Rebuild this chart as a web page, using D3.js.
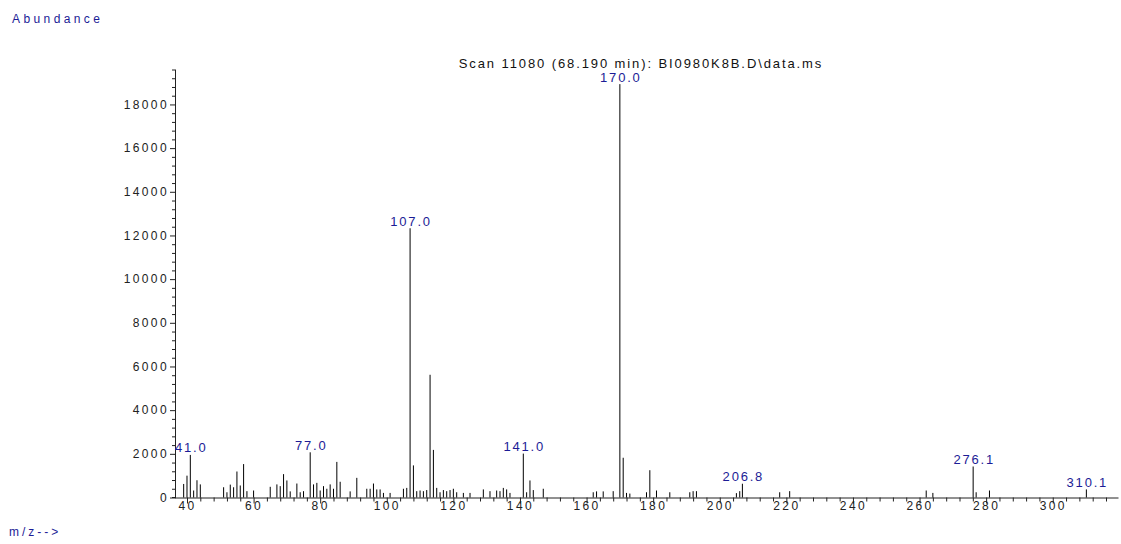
<!DOCTYPE html>
<html>
<head>
<meta charset="utf-8">
<script src="https://cdn.jsdelivr.net/npm/d3@7"></script>
<style>
body { margin: 0; background: #fff; }
svg { display: block; font-family: "Liberation Sans", Arial, sans-serif; }
</style>
</head>
<body>
<svg id="mySVG" width="1121" height="544"></svg>
<script>
// peaks (m/z, abundance)
var mzValues = [39, 40, 41, 42, 43, 44, 51, 52, 53, 54, 55, 56, 57, 58, 60,
	65, 67, 68, 69, 70, 71, 73, 74, 75, 77, 78, 79, 80, 81, 82, 83, 84, 85, 86,
	89, 91, 94, 95, 96, 97, 98, 99, 101, 105, 106, 107, 108, 109, 110, 111, 112,
	113, 114, 115, 116, 117, 118, 119, 120, 121, 123, 125, 129, 131, 133, 134,
	135, 136, 137, 141, 142, 143, 144, 147, 162, 163, 165, 168, 170, 171, 172,
	173, 178, 179, 181, 185, 191, 192, 193, 205, 206, 206.8, 218, 221, 262, 264,
	276.1, 277, 281, 310.1];
var abundances = [620, 1000, 1950, 320, 790, 600, 470, 240, 590, 470, 1190, 550, 1530, 290, 320,
	490, 600, 520, 1070, 780, 280, 640, 240, 290, 2070, 600, 670, 320, 520, 400, 600, 400, 1630, 720,
	280, 900, 400, 400, 640, 370, 370, 210, 210, 400, 440, 12330, 1470, 290, 320, 290, 340,
	5620, 2180, 440, 240, 340, 290, 340, 400, 240, 210, 210, 370, 290, 320, 290,
	440, 370, 210, 2010, 240, 780, 340, 400, 240, 280, 280, 290, 18930, 1820, 210,
	180, 240, 1250, 320, 240, 240, 290, 290, 200, 290, 630, 240, 290, 320, 210,
	1420, 240, 320, 370];
var labelledPeaks = [41.0, 77.0, 107.0, 141.0, 170.0, 206.8, 276.1, 310.1];

var xTicks = [40, 60, 80, 100, 120, 140, 160, 180, 200, 220, 240, 260, 280, 300];
var yTicks = [0, 2000, 4000, 6000, 8000, 10000, 12000, 14000, 16000, 18000];
var xMinorStep = 4;
var yMinorStep = 400;

var titleText = "Scan 11080 (68.190 min): BI0980K8B.D\\data.ms";

var peaks = mzValues.map(function(m, i) { return {mz: m, ab: abundances[i]}; });

var svg = d3.select('#mySVG');

var x = d3.scaleLinear().domain([36.4, 319.6]).range([175, 1118]);
var y = d3.scaleLinear().domain([0, 19600]).range([497.5, 69.5]);

var xMinor = d3.range(40, 319, xMinorStep).filter(function(v) { return xTicks.indexOf(v) < 0; });
var yMinor = d3.range(0, 19601, yMinorStep).filter(function(v) { return yTicks.indexOf(v) < 0; });

// minor x ticks
var gxm = svg.append('g')
	.attr('transform', 'translate(0,' + y(0) + ')')
	.call(d3.axisBottom(x).tickValues(xMinor).tickSize(4).tickSizeOuter(0).tickFormat(''));
gxm.selectAll('.tick line').attr('stroke', '#222');
gxm.select('.domain').remove();

// major x ticks + labels
var gx = svg.append('g')
	.attr('transform', 'translate(0,' + y(0) + ')')
	.call(d3.axisBottom(x).tickValues(xTicks).tickSize(6).tickSizeOuter(0));
gx.select('.domain').attr('stroke', '#222');
gx.selectAll('.tick line').attr('stroke', '#222');
gx.selectAll('text')
	.attr('y', 12)
	.attr('dy', 0)
	.attr('font-family', '"Liberation Sans", Arial, sans-serif')
	.attr('font-size', 12)
	.attr('letter-spacing', '2.4px')
	.attr('fill', '#222');

// little stub of the x axis left of the y axis
svg.append('line')
	.attr('x1', x.range()[0] - 3).attr('x2', x.range()[0])
	.attr('y1', y(0)).attr('y2', y(0))
	.attr('stroke', '#222');

// y axis
var gym = svg.append('g')
	.attr('transform', 'translate(' + x.range()[0] + ',0)')
	.call(d3.axisLeft(y).tickValues(yMinor).tickSize(3).tickSizeOuter(0).tickFormat(''));
gym.selectAll('.tick line').attr('x1', 1).attr('stroke', '#222');
gym.select('.domain').remove();

var gy = svg.append('g')
	.attr('transform', 'translate(' + x.range()[0] + ',0)')
	.call(d3.axisLeft(y).tickValues(yTicks).tickSize(5).tickSizeOuter(0).tickPadding(1)
		.tickFormat(d3.format('d')));
gy.select('.domain').attr('stroke', '#222');
gy.selectAll('.tick line').attr('x2', -5).attr('x1', 1).attr('stroke', '#222');
gy.selectAll('text')
	.attr('font-family', '"Liberation Sans", Arial, sans-serif')
	.attr('font-size', 12)
	.attr('letter-spacing', '2.4px')
	.attr('fill', '#222');

// spectrum lines
svg.append('g').selectAll('line')
	.data(peaks)
	.enter()
	.append('line')
	.attr('x1', function(d) { return x(d.mz); })
	.attr('x2', function(d) { return x(d.mz); })
	.attr('y1', y(0))
	.attr('y2', function(d) { return y(d.ab); })
	.attr('stroke', '#000')
	.attr('stroke-width', 1);

// peak labels
svg.append('g').selectAll('text')
	.data(peaks.filter(function(d) { return labelledPeaks.indexOf(d.mz) >= 0; }))
	.enter()
	.append('text')
	.attr('x', function(d) { return x(d.mz) + 1; })
	.attr('y', function(d) { return y(d.ab) - 2.5; })
	.attr('text-anchor', 'middle')
	.attr('font-size', 13)
	.attr('letter-spacing', '1.8px')
	.attr('fill', '#1c1c96')
	.text(function(d) { return d.mz.toFixed(1); });

// title and axis captions
svg.append('text')
	.attr('x', 641).attr('y', 68)
	.attr('text-anchor', 'middle')
	.attr('font-size', 13)
	.attr('letter-spacing', '1.9px')
	.attr('fill', '#111')
	.text(titleText);

svg.append('text')
	.attr('x', 12).attr('y', 22.5)
	.attr('font-size', 12)
	.attr('letter-spacing', '3.4px')
	.attr('fill', '#1c1c96')
	.text('Abundance');

svg.append('text')
	.attr('x', 9).attr('y', 536)
	.attr('font-size', 12)
	.attr('letter-spacing', '3px')
	.attr('fill', '#1c1c96')
	.text('m/z-->');
</script>
</body>
</html>
